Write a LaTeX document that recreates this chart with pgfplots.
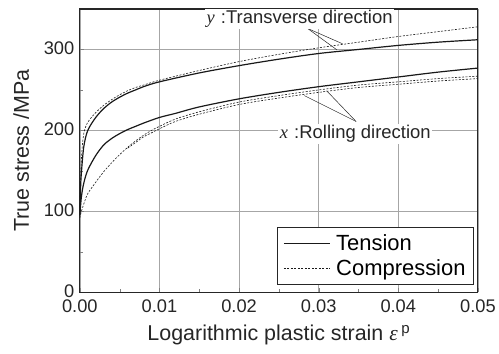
\documentclass[border=0pt]{standalone}
\usepackage{fontspec}
\setmainfont{Liberation Sans}
\newfontfamily\serif{Liberation Serif}
\usepackage{pgfplots}
\pgfplotsset{compat=1.18}
\begin{document}
\begin{tikzpicture}
\begin{axis}[
  scale only axis, width=399pt, height=284pt,
  xmin=0, xmax=0.05, ymin=0, ymax=350,
  xtick={0,0.01,0.02,0.03,0.04,0.05},
  xticklabels={0.00,0.01,0.02,0.03,0.04,0.05},
  scaled x ticks=false,
  ytick={0,100,200,300},
  minor x tick num=1, minor y tick num=1,
  tick pos=left, tick align=inside,
  major tick length=4pt, minor tick length=3pt,
  grid=major, grid style={gray!70, line width=0.6pt},
  axis line style={line width=1.1pt, black!85},
  /pgf/number format/assume math mode=true,
  tick label style={font=\fontsize{18.3}{18}\selectfont, black!85},
  xticklabel style={yshift=-3.5pt},
  yticklabel style={xshift=-2pt, yshift=1.5pt},
  label style={font=\fontsize{21.5}{22}\selectfont, black!85},
  xlabel={Logarithmic plastic strain {\serif\itshape ε}\,\textsuperscript{p}},
  ylabel={True stress /MPa},
  xlabel style={yshift=-6pt},
  ylabel style={yshift=8pt},
  legend style={at={(0.99,0.028)}, anchor=south east, draw=black!85, line width=0.8pt,
    font=\fontsize{22}{24}\selectfont, inner xsep=6pt, inner ysep=5pt, row sep=4pt,
    column sep=4pt},
  legend cell align=left,
  legend image code/.code={\draw[#1] (0pt,0pt) -- (46pt,0pt);},
  clip=false,
]
% transverse, tension
\addplot[black!90, line width=1.2pt, smooth, forget plot] coordinates {
 (0,95) (0.0001,130) (0.0002,148) (0.0005,180) (0.001,200) (0.002,216) (0.003,227)
 (0.004,235) (0.005,241) (0.006,246) (0.007,250) (0.008,254) (0.01,260) (0.015,271)
 (0.02,280) (0.025,288) (0.03,295) (0.035,300) (0.04,305) (0.045,309) (0.05,312)};
% transverse, compression
\addplot[black!90, line width=0.6pt, dash pattern=on 2pt off 1.5pt, smooth, forget plot] coordinates {
 (0,100) (0.0002,165) (0.0005,196) (0.001,210) (0.002,222) (0.003,231) (0.004,238)
 (0.005,244) (0.006,249) (0.007,253) (0.008,256) (0.01,262) (0.015,274) (0.02,285)
 (0.025,294) (0.03,302) (0.035,309) (0.04,316) (0.045,322) (0.05,328)};
% rolling, tension
\addplot[black!90, line width=1.2pt, smooth, forget plot] coordinates {
 (0,95) (0.0002,118) (0.0005,135) (0.001,151) (0.002,169) (0.003,182) (0.004,190)
 (0.005,196) (0.006,201) (0.007,205) (0.008,209) (0.01,216) (0.012,221) (0.015,229)
 (0.02,239) (0.025,247) (0.03,254) (0.035,260) (0.04,266) (0.045,272) (0.05,277)};
% rolling, compression (two tests)
\addplot[black!90, line width=0.6pt, dash pattern=on 2pt off 1.5pt, smooth, forget plot] coordinates {
 (0,92) (0.0002,100) (0.0006,112) (0.001,122) (0.002,136) (0.003,149) (0.004,160)
 (0.005,170) (0.006,179) (0.007,187) (0.008,194) (0.009,200) (0.01,205) (0.012,214)
 (0.015,223) (0.02,235) (0.025,243) (0.03,250) (0.035,256) (0.04,260) (0.045,264) (0.05,267)};
\addplot[black!90, line width=0.6pt, dash pattern=on 2pt off 1.5pt, smooth, forget plot] coordinates {
 (0.006,178) (0.007,185) (0.008,192) (0.009,197) (0.01,202) (0.012,211) (0.015,220)
 (0.02,232) (0.025,240) (0.03,247) (0.035,253) (0.04,257) (0.045,261) (0.05,264)};
\addlegendimage{black!90, line width=0.8pt}
\addlegendentry{Tension}
\addlegendimage{black!90, line width=0.6pt, dash pattern=on 2pt off 1.5pt}
\addlegendentry{Compression}
% annotation leader lines
\draw[black!85, line width=0.5pt] (axis cs:0.0286,326) -- (axis cs:0.033,307);
\draw[black!85, line width=0.5pt] (axis cs:0.0286,326) -- (axis cs:0.0323,299.4);
\draw[black!85, line width=0.5pt] (axis cs:0.0347,211) -- (axis cs:0.0282,243);
\draw[black!85, line width=0.5pt] (axis cs:0.0347,211) -- (axis cs:0.031,249);
\coordinate (ylab) at (axis cs:0.0276,337.5);
\coordinate (xlab) at (axis cs:0.0346,196);
\end{axis}
\node[fill=white, inner sep=1.5pt, font=\fontsize{18.5}{18}\selectfont, text=black!85] at (ylab) {{\serif\itshape y}\,\,:Transverse direction};
\node[fill=white, inner sep=1.5pt, font=\fontsize{18.5}{18}\selectfont, text=black!85] at (xlab) {{\serif\itshape x}\,\,:Rolling direction};
\path ([xshift=-80pt,yshift=-61pt]current axis.south west) rectangle ([xshift=20pt,yshift=9pt]current axis.north east);
\end{tikzpicture}
\end{document}
